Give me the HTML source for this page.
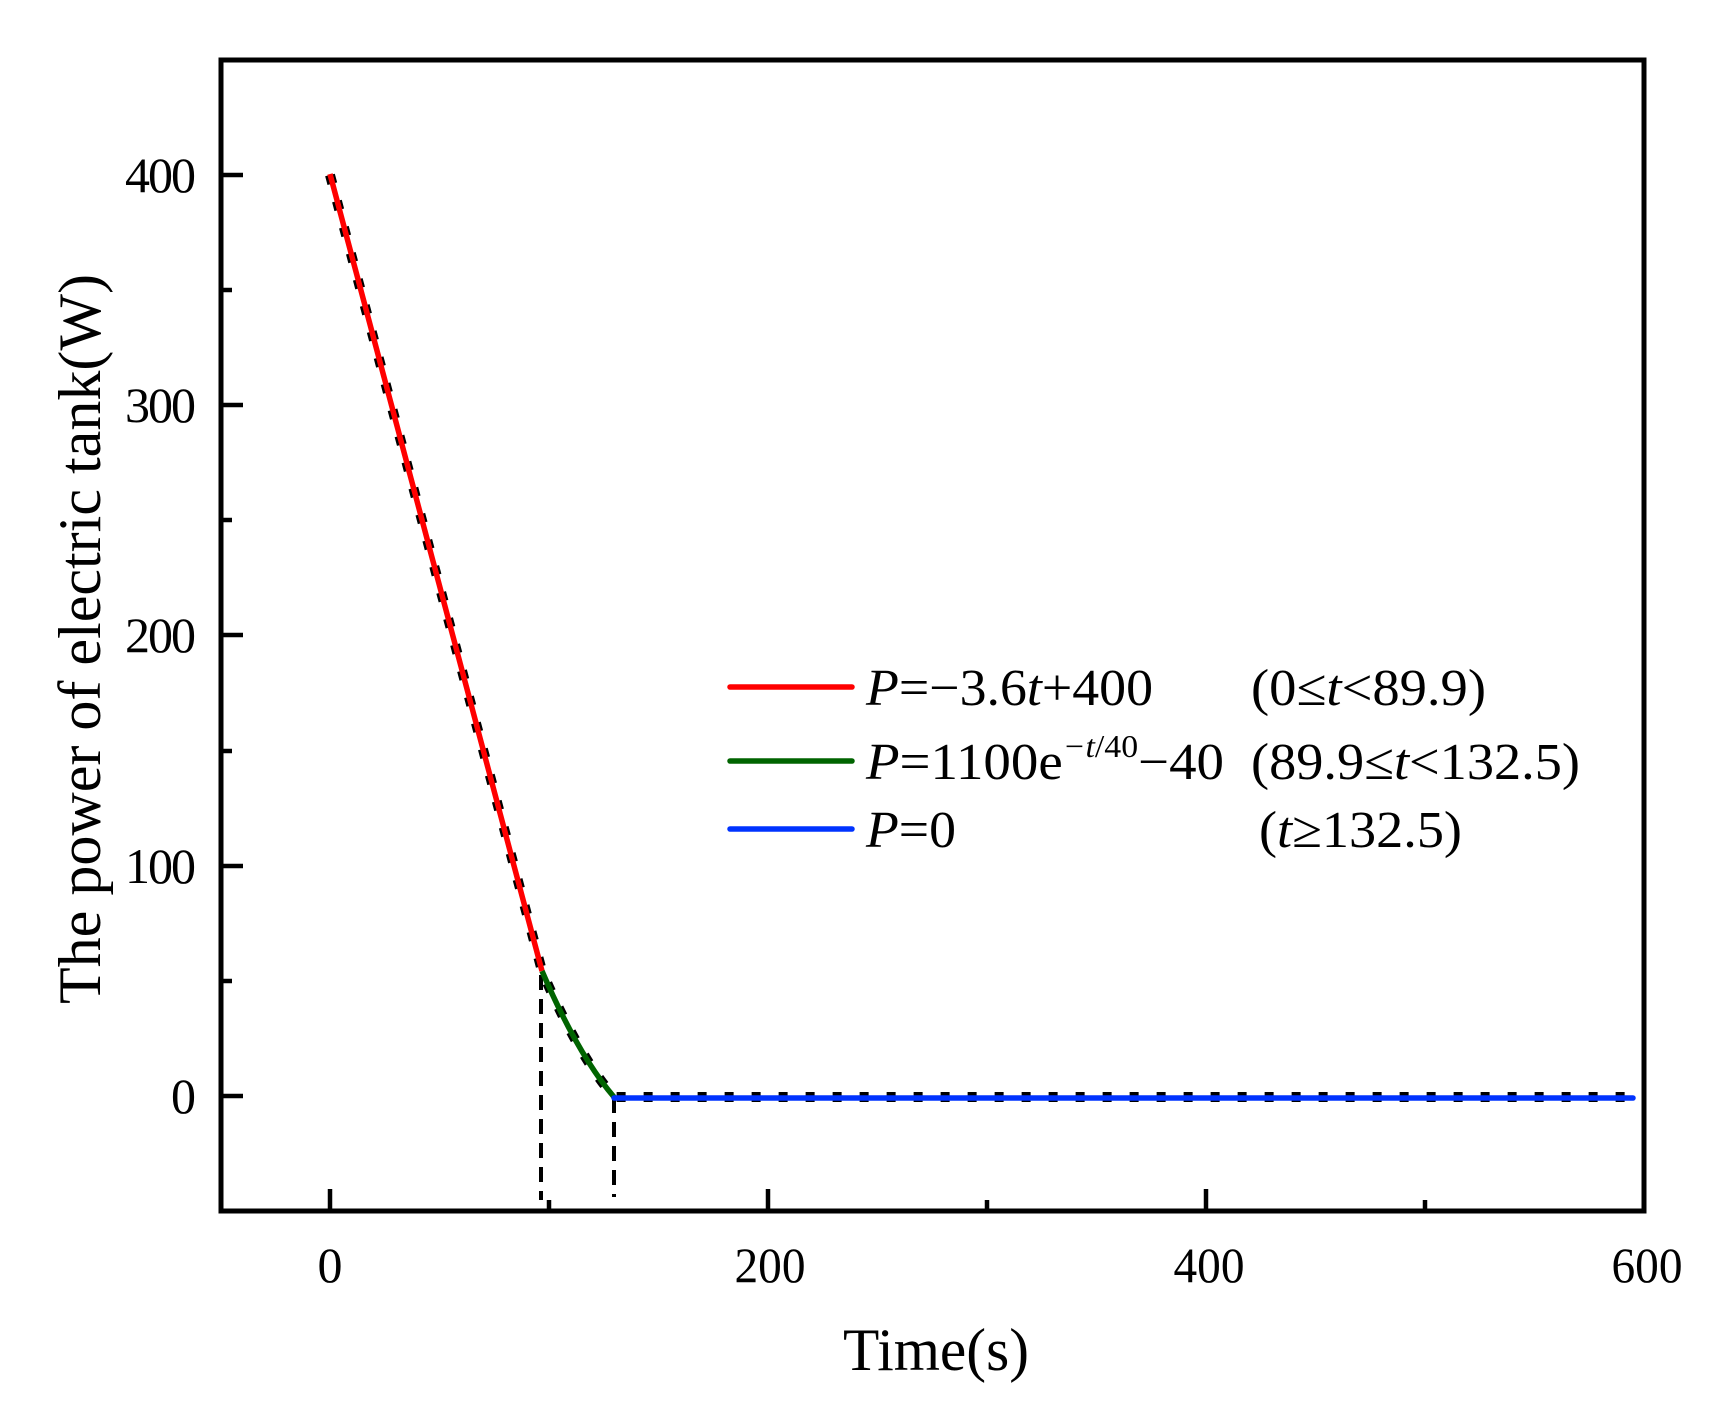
<!DOCTYPE html>
<html><head><meta charset="utf-8"><style>html,body{margin:0;padding:0;background:#fff}svg{display:block}</style></head>
<body>
<svg width="1711" height="1406" viewBox="0 0 1711 1406" xmlns="http://www.w3.org/2000/svg" font-family="Liberation Serif, serif">
<rect width="1711" height="1406" fill="#fff"/>
<!-- dashed reference curve -->
<path d="M330,175 L542,971 Q578,1055 614,1097 L1633,1097" fill="none" stroke="#000" stroke-width="10" stroke-dasharray="9,18"/>
<line x1="541" y1="975" x2="541" y2="1200" stroke="#000" stroke-width="4" stroke-dasharray="15,9"/>
<line x1="614" y1="1098" x2="614" y2="1197" stroke="#000" stroke-width="4" stroke-dasharray="15,9"/>
<!-- series -->
<path d="M330,174 L542,971" fill="none" stroke="#ff0000" stroke-width="5.5"/>
<path d="M542,971 Q578,1055 614,1097" fill="none" stroke="#006400" stroke-width="5.5"/>
<path d="M614,1098 L1633,1098" fill="none" stroke="#0033ff" stroke-width="5.5" stroke-linecap="round"/>
<!-- axes box -->
<rect x="221" y="60" width="1423" height="1151" fill="none" stroke="#000" stroke-width="5"/>
<g stroke="#000" stroke-width="4.5">
<line x1="221" y1="1096" x2="243" y2="1096"/><line x1="221" y1="981" x2="232" y2="981"/>
<line x1="221" y1="866" x2="243" y2="866"/><line x1="221" y1="751" x2="232" y2="751"/>
<line x1="221" y1="635" x2="243" y2="635"/><line x1="221" y1="520" x2="232" y2="520"/>
<line x1="221" y1="405" x2="243" y2="405"/><line x1="221" y1="290" x2="232" y2="290"/>
<line x1="221" y1="175" x2="243" y2="175"/>
<line x1="330" y1="1211" x2="330" y2="1189"/><line x1="549" y1="1211" x2="549" y2="1200"/>
<line x1="768" y1="1211" x2="768" y2="1189"/><line x1="987" y1="1211" x2="987" y2="1200"/>
<line x1="1206" y1="1211" x2="1206" y2="1189"/><line x1="1425" y1="1211" x2="1425" y2="1200"/>
</g>
<g font-size="50" fill="#000" text-anchor="end" lengthAdjust="spacingAndGlyphs">
<text x="196" y="192" textLength="71">400</text><text x="196" y="422" textLength="71">300</text><text x="196" y="652" textLength="71">200</text>
<text x="196" y="883" textLength="71">100</text><text x="196" y="1113">0</text>
</g>
<g font-size="50" fill="#000" text-anchor="middle">
<text x="330" y="1282">0</text><text x="770" y="1282" textLength="71" lengthAdjust="spacingAndGlyphs">200</text><text x="1209" y="1282" textLength="71" lengthAdjust="spacingAndGlyphs">400</text><text x="1647" y="1282" textLength="71" lengthAdjust="spacingAndGlyphs">600</text>
</g>
<text x="936" y="1370" font-size="60" text-anchor="middle" textLength="186" lengthAdjust="spacingAndGlyphs">Time(s)</text>
<text transform="translate(100,639) rotate(-90)" font-size="60" text-anchor="middle" textLength="730" lengthAdjust="spacingAndGlyphs">The power of electric tank(W)</text>
<!-- legend -->
<g stroke-width="5.5" stroke-linecap="round">
<line x1="730" y1="687" x2="852" y2="687" stroke="#ff0000"/>
<line x1="730" y1="761" x2="852" y2="761" stroke="#006400"/>
<line x1="730" y1="829" x2="852" y2="829" stroke="#0033ff"/>
</g>
<g font-size="52" fill="#000" lengthAdjust="spacingAndGlyphs">
<text x="866" y="705" textLength="287" lengthAdjust="spacingAndGlyphs"><tspan font-style="italic">P</tspan>=−3.6<tspan font-style="italic">t</tspan>+400</text>
<text x="866" y="779" textLength="358" lengthAdjust="spacingAndGlyphs"><tspan font-style="italic">P</tspan>=1100e<tspan font-size="32" dy="-22"><tspan font-style="italic">−t</tspan>/40</tspan><tspan dy="22">−40</tspan></text>
<text x="866" y="847" textLength="90" lengthAdjust="spacingAndGlyphs"><tspan font-style="italic">P</tspan>=0</text>
<text x="1251" y="705" textLength="235" lengthAdjust="spacingAndGlyphs">(0≤<tspan font-style="italic">t</tspan>&lt;89.9)</text>
<text x="1251" y="779" textLength="329" lengthAdjust="spacingAndGlyphs">(89.9≤<tspan font-style="italic">t</tspan>&lt;132.5)</text>
<text x="1259" y="847" textLength="203" lengthAdjust="spacingAndGlyphs">(<tspan font-style="italic">t</tspan>≥132.5)</text>
</g>
</svg>
</body></html>
